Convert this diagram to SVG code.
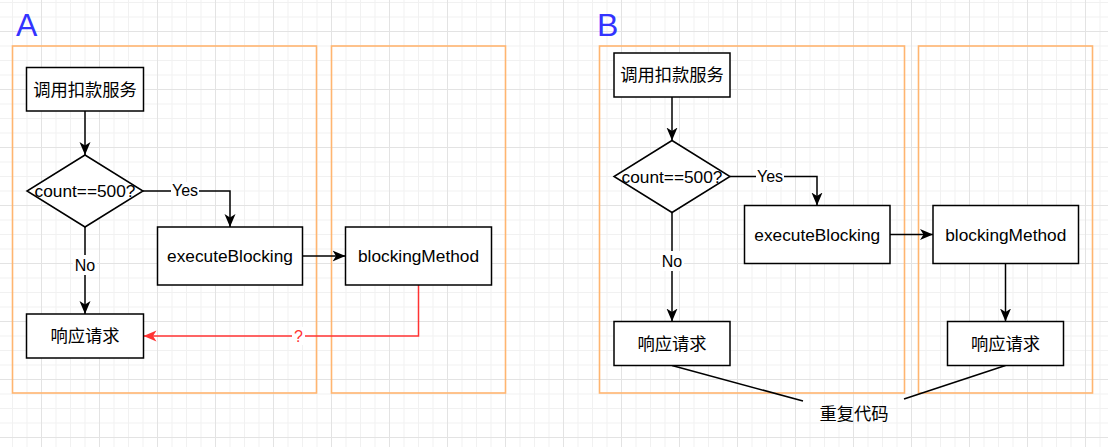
<svg xmlns="http://www.w3.org/2000/svg" width="1108" height="447" viewBox="0 0 1108 447">
<style>
.box{fill:#fff;stroke:#000;stroke-width:1.5}
.grp{fill:none;stroke:#FFB570;stroke-width:1.6}
.t{font-family:"Liberation Sans","Noto Sans CJK SC",Arial,sans-serif;font-size:17.3px;fill:#000;text-anchor:middle;dominant-baseline:central}
.lbl{font-family:"Liberation Sans","Noto Sans CJK SC",Arial,sans-serif;font-size:16px;fill:#000;text-anchor:middle;dominant-baseline:central}
.big{font-family:"Liberation Sans",Arial,sans-serif;font-size:32px;fill:#3333FF}
.ln{fill:none;stroke:#000;stroke-width:1.5}
.red{fill:none;stroke:#FF3333;stroke-width:1.5}
.bg{fill:#fff}
</style>
<defs>
<pattern id="grid" patternUnits="userSpaceOnUse" x="41" y="31" width="58" height="58">
<path d="M15,0V58M29.5,0V58M44,0V58M0,15H58M0,29.5H58M0,44H58" stroke="#f1f1f1" stroke-width="1" fill="none"/>
<path d="M0.5,0V58M0,0.5H58" stroke="#e3e3e3" stroke-width="1" fill="none"/>
</pattern>
<marker id="arr" markerUnits="userSpaceOnUse" markerWidth="14" markerHeight="12" refX="13" refY="6" orient="auto" viewBox="0 0 14 12">
<path d="M0,0.5 L13,6 L0,11.5 L3.5,6 Z" fill="#000"/>
</marker>
<marker id="arrR" markerUnits="userSpaceOnUse" markerWidth="14" markerHeight="12" refX="13" refY="6" orient="auto" viewBox="0 0 14 12">
<path d="M0,0.5 L13,6 L0,11.5 L3.5,6 Z" fill="#FF3333"/>
</marker>
</defs>
<rect width="1108" height="447" fill="#fff"/>
<rect width="1108" height="447" fill="url(#grid)"/>

<g id="labels">
<text class="big" x="16" y="36">A</text>
<text class="big" x="597" y="36">B</text>
</g>

<g id="containers">
<rect class="grp" x="12.5" y="46" width="304" height="347"/>
<rect class="grp" x="331.5" y="46" width="174" height="347"/>
<rect class="grp" x="599.5" y="46" width="305" height="347"/>
<rect class="grp" x="918.5" y="46" width="174" height="347"/>
</g>

<g id="connectors">
<path class="ln" d="M85,111V155" marker-end="url(#arr)"/>
<path class="ln" d="M143,191H230V227" marker-end="url(#arr)"/>
<rect class="bg" x="171" y="182" width="28" height="18"/>
<text class="lbl" x="185" y="190">Yes</text>
<path class="ln" d="M302.5,256H345.5" marker-end="url(#arr)"/>
<path class="ln" d="M85,227V314" marker-end="url(#arr)"/>
<rect class="bg" x="73" y="255" width="24" height="20"/>
<text class="lbl" x="85" y="265">No</text>
<path class="red" d="M418.5,285V336H143.5" marker-end="url(#arrR)"/>
<rect class="bg" x="292" y="327" width="13" height="18"/>
<text class="lbl" x="298.5" y="336" style="fill:#FF3333">?</text>

<path class="ln" d="M672,97V140.5" marker-end="url(#arr)"/>
<path class="ln" d="M730,176.5H817V205.5" marker-end="url(#arr)"/>
<rect class="bg" x="756" y="168" width="28" height="18"/>
<text class="lbl" x="770" y="176">Yes</text>
<path class="ln" d="M890,234.5H933" marker-end="url(#arr)"/>
<path class="ln" d="M672,212.5V321.5" marker-end="url(#arr)"/>
<rect class="bg" x="660" y="251" width="24" height="20"/>
<text class="lbl" x="672" y="261">No</text>
<path class="ln" d="M1005.5,263.5V321.5" marker-end="url(#arr)"/>
<path class="ln" d="M672,365.5L803,401"/>
<path class="ln" d="M1005.5,365.5L904,399"/>
</g>

<g id="a-start"><rect class="box" x="26.5" y="67.5" width="117" height="43.5"/><text class="t" x="85" y="89.5">调用扣款服务</text></g>
<g id="a-decision"><polygon class="box" points="85,155 143,191 85,227 27,191"/><text class="t" x="85" y="191">count==500?</text></g>
<g id="a-execute"><rect class="box" x="157.5" y="227" width="145" height="58"/><text class="t" x="230" y="256">executeBlocking</text></g>
<g id="a-blocking"><rect class="box" x="345.5" y="227" width="146" height="58"/><text class="t" x="418.5" y="256">blockingMethod</text></g>
<g id="a-response"><rect class="box" x="26.5" y="314" width="117" height="44"/><text class="t" x="85" y="336">响应请求</text></g>

<g id="b-start"><rect class="box" x="614" y="53" width="116" height="44"/><text class="t" x="672" y="75">调用扣款服务</text></g>
<g id="b-decision"><polygon class="box" points="672,140.5 730,176.5 672,212.5 614,176.5"/><text class="t" x="672" y="176.5">count==500?</text></g>
<g id="b-execute"><rect class="box" x="744.5" y="205.5" width="145.5" height="58"/><text class="t" x="817.25" y="234.5">executeBlocking</text></g>
<g id="b-blocking"><rect class="box" x="933" y="205.5" width="145.5" height="58"/><text class="t" x="1005.75" y="234.5">blockingMethod</text></g>
<g id="b-response1"><rect class="box" x="614" y="321.5" width="116" height="44"/><text class="t" x="672" y="343.5">响应请求</text></g>
<g id="b-response2"><rect class="box" x="947.5" y="321.5" width="116" height="44"/><text class="t" x="1005.5" y="343.5">响应请求</text></g>
<g id="dup-note"><text class="t" x="854" y="414">重复代码</text></g>
</svg>
